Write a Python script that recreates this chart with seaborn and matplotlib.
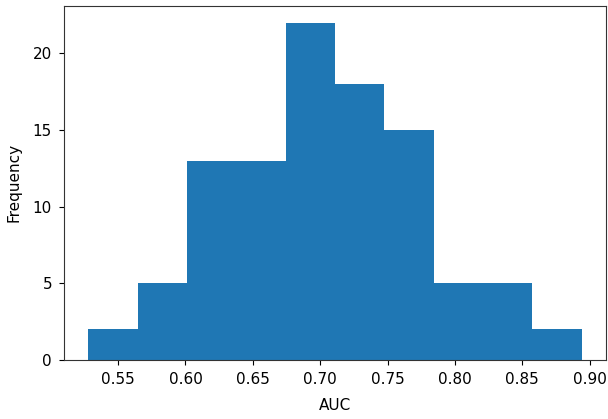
import numpy as np
import pandas as pd
import matplotlib
matplotlib.use("Agg")
import matplotlib.pyplot as plt
import seaborn as sns

# histogram: 10 bins between min and max AUC
auc_min = 0.528
auc_max = 0.894
bin_counts = [2, 5, 13, 13, 22, 18, 15, 5, 5, 2]

edges = np.linspace(auc_min, auc_max, len(bin_counts) + 1)
centers = (edges[:-1] + edges[1:]) / 2
df = pd.DataFrame({"AUC": centers, "count": bin_counts})

plt.rcParams["font.family"] = ["DejaVu Sans"]
plt.rcParams["font.size"] = 11
plt.rcParams["xtick.major.pad"] = 5
plt.rcParams["ytick.major.pad"] = 5
plt.rcParams["axes.edgecolor"] = "#333333"

fig = plt.figure(figsize=(6.08, 4.19), dpi=100)
ax = fig.add_axes([0.105, 0.141, 0.892, 0.845])

sns.histplot(data=df, x="AUC", weights="count", bins=len(bin_counts),
             binrange=(auc_min, auc_max), ax=ax,
             color="#1f77b4", alpha=1.0, linewidth=0, element="bars")

ax.set_xticks([0.55, 0.60, 0.65, 0.70, 0.75, 0.80, 0.85, 0.90])
ax.set_yticks([0, 5, 10, 15, 20])
ax.set_xlabel("AUC", labelpad=8)
ax.set_ylabel("Frequency", labelpad=8)
ax.set_xlim(auc_min - 0.05 * (auc_max - auc_min), auc_max + 0.05 * (auc_max - auc_min))
ax.set_ylim(0, 23.1)

fig.savefig("out.png", dpi=100)
